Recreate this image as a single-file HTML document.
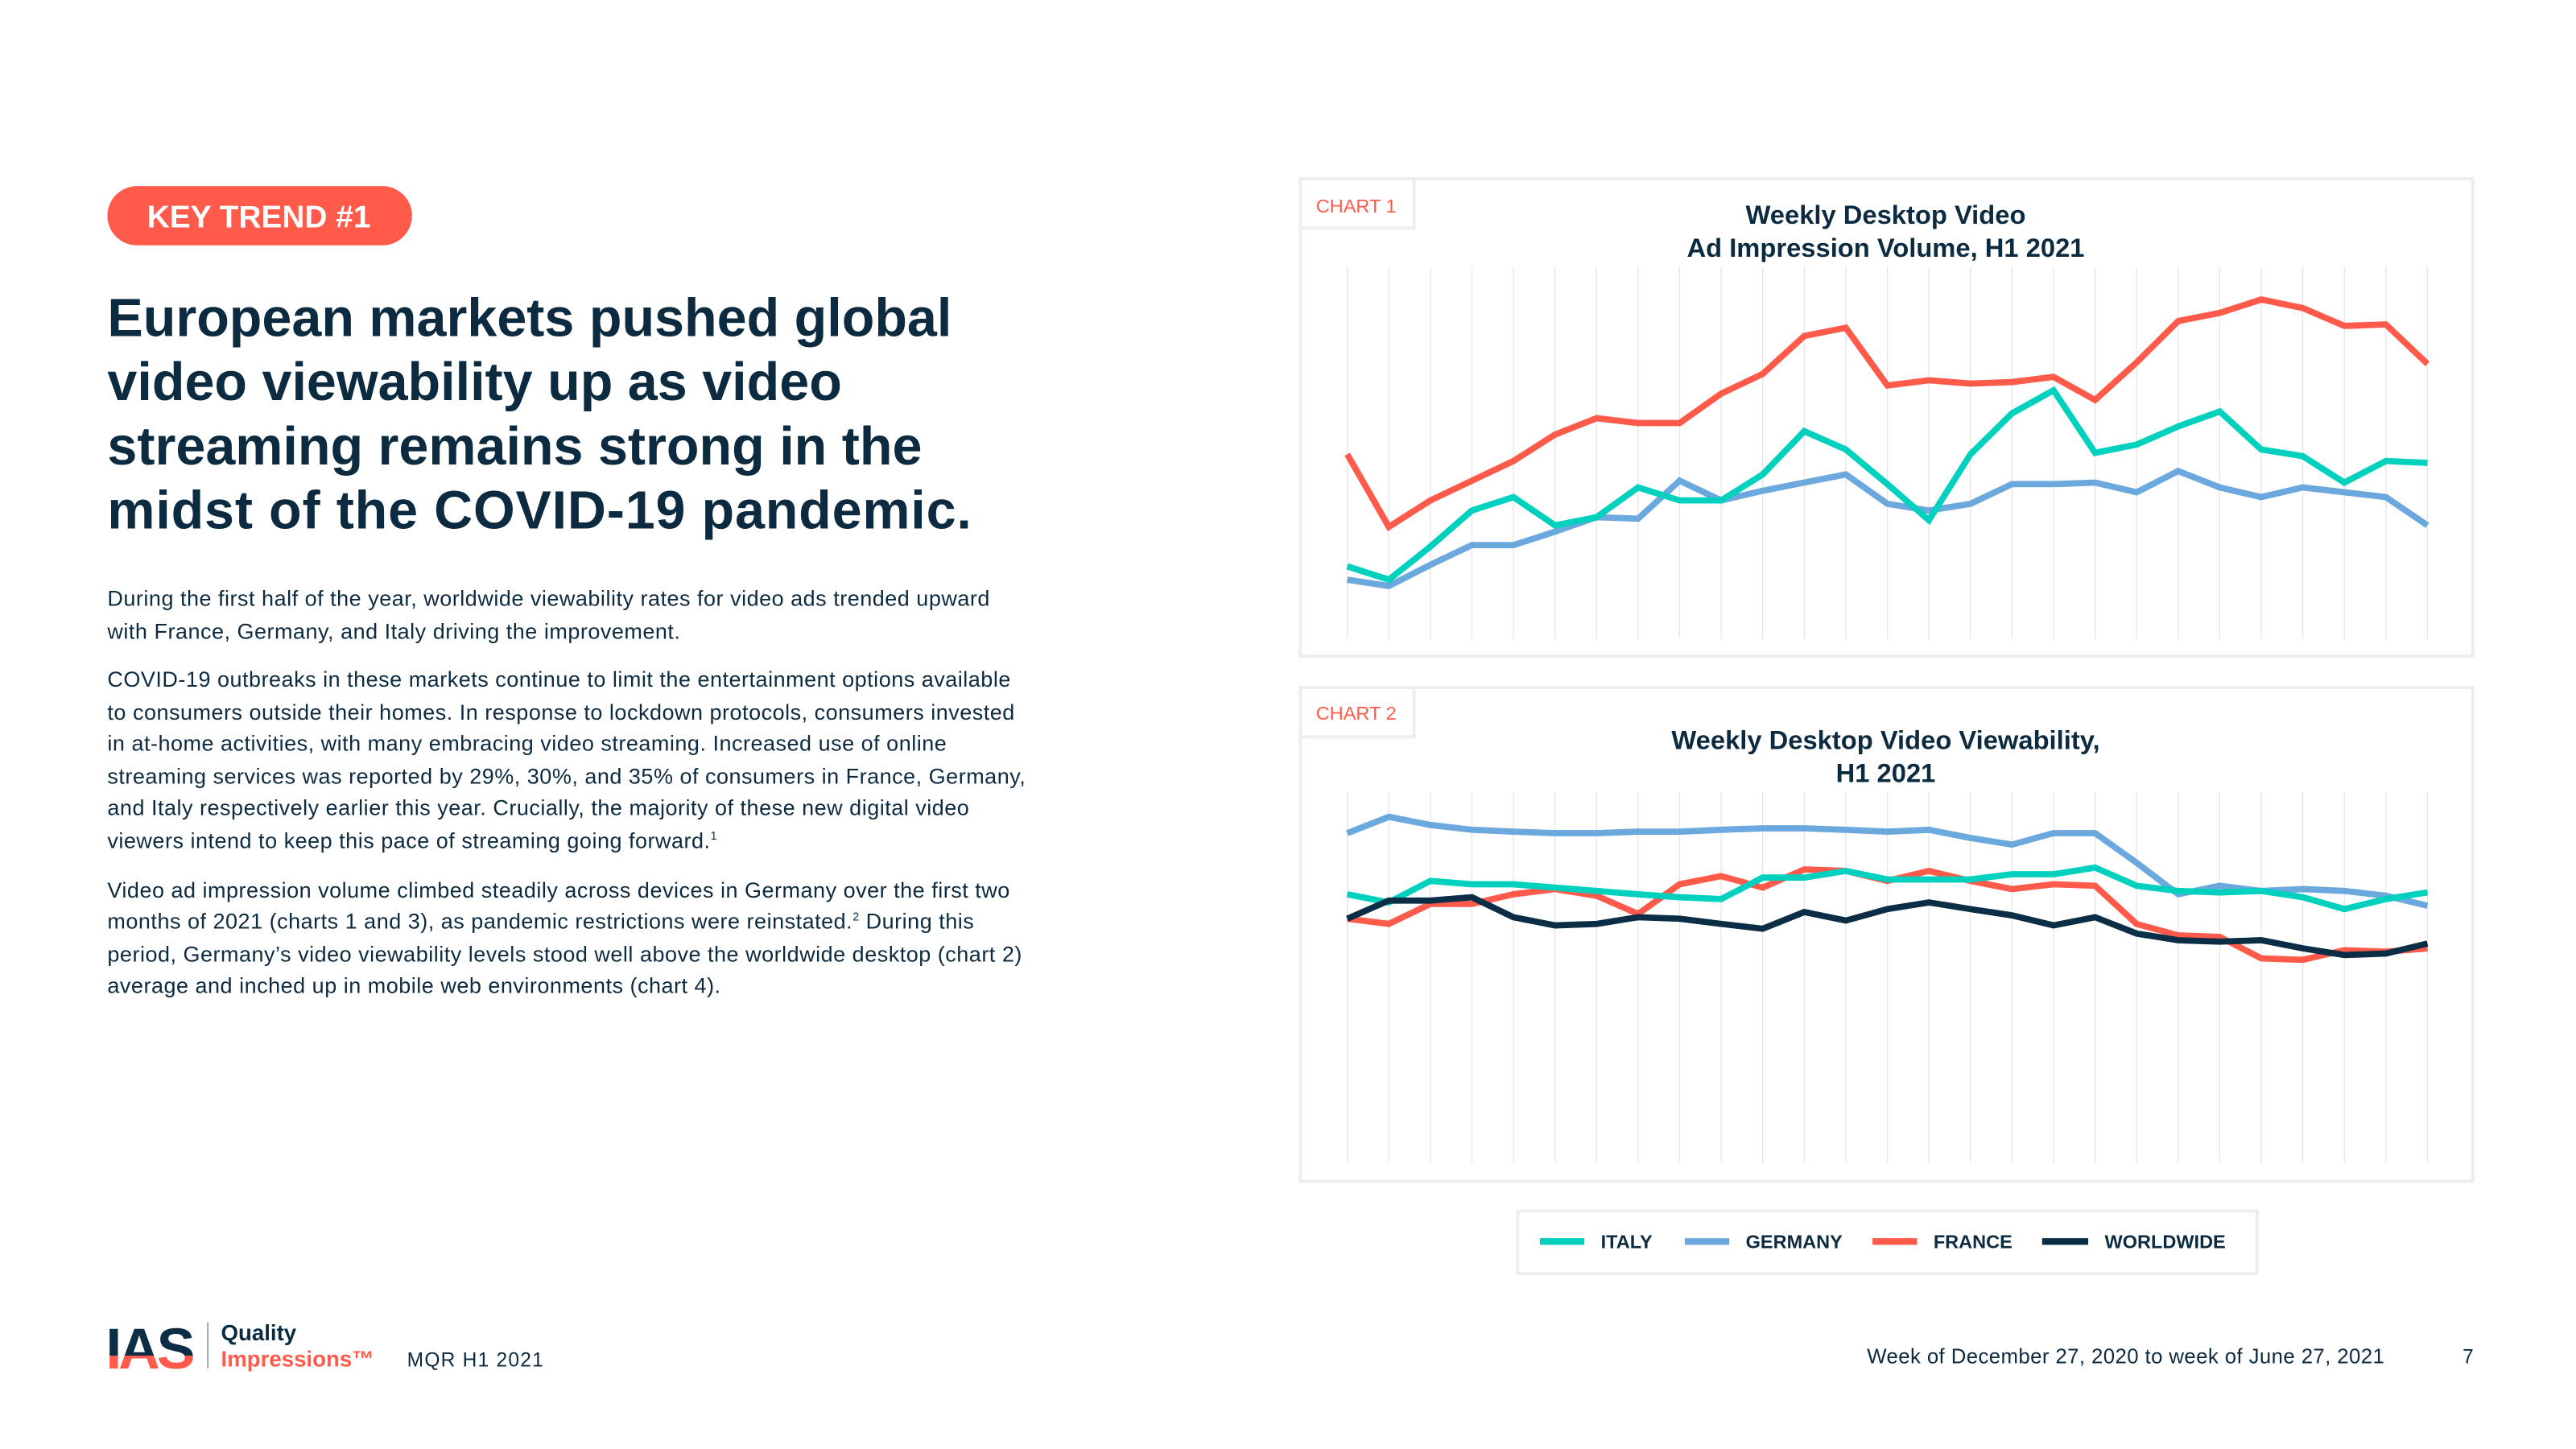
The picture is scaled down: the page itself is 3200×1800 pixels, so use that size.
<!DOCTYPE html>
<html><head><meta charset="utf-8"><style>
html,body{margin:0;padding:0;background:#fff;width:3200px;height:1800px;overflow:hidden}
svg{display:block;font-family:"Liberation Sans",sans-serif}
</style></head><body>
<svg id="page" width="3200" height="1800" viewBox="0 0 1564 880" xmlns="http://www.w3.org/2000/svg">
<defs>
<linearGradient id="ias" x1="0" y1="0" x2="0" y2="1"><stop offset="0.6" stop-color="#0B2D45"/><stop offset="0.6" stop-color="#FF5A4A"/></linearGradient>
</defs>
<g>
<rect x="65" y="113" width="185" height="36" rx="18" fill="#FF5A4A"/>
<text x="157" y="138" text-anchor="middle" fill="#fff" font-size="19" font-weight="bold">KEY TREND #1</text>
</g>
<g fill="#0C2A40" font-size="32.5" font-weight="bold">
<text x="65" y="204">European markets pushed global</text>
<text x="65" y="243">video viewability up as video</text>
<text x="65" y="282">streaming remains strong in the</text>
<text x="65" y="321" letter-spacing="0.4">midst of the COVID-19 pandemic.</text>
</g>
<g fill="#0C2A40" font-size="13.2" letter-spacing="0.25">
<text x="65" y="368">During the first half of the year, worldwide viewability rates for video ads trended upward</text>
<text x="65" y="388">with France, Germany, and Italy driving the improvement.</text>
<text x="65" y="417">COVID-19 outbreaks in these markets continue to limit the entertainment options available</text>
<text x="65" y="437">to consumers outside their homes. In response to lockdown protocols, consumers invested</text>
<text x="65" y="456">in at-home activities, with many embracing video streaming. Increased use of online</text>
<text x="65" y="476">streaming services was reported by 29%, 30%, and 35% of consumers in France, Germany,</text>
<text x="65" y="495">and Italy respectively earlier this year. Crucially, the majority of these new digital video</text>
<text x="65" y="515">viewers intend to keep this pace of streaming going forward.<tspan font-size="7" dy="-5">1</tspan></text>
<text x="65" y="545">Video ad impression volume climbed steadily across devices in Germany over the first two</text>
<text x="65" y="564">months of 2021 (charts 1 and 3), as pandemic restrictions were reinstated.<tspan font-size="7" dy="-5">2</tspan><tspan dy="5"> During this</tspan></text>
<text x="65" y="584">period, Germany’s video viewability levels stood well above the worldwide desktop (chart 2)</text>
<text x="65" y="603">average and inched up in mobile web environments (chart 4).</text>
</g>

<g>
<rect x="789.5" y="108.5" width="712" height="290" fill="#fff" stroke="#eeeeee" stroke-width="2"/>
<rect x="789.5" y="108.5" width="69" height="30" fill="#fff" stroke="#eeeeee" stroke-width="2"/>
<text x="799" y="129" fill="#FF5A4A" font-size="11.5">CHART 1</text>
<text x="1145" y="136" text-anchor="middle" fill="#0C2A40" font-size="16" font-weight="bold">Weekly Desktop Video</text>
<text x="1145" y="156" text-anchor="middle" fill="#0C2A40" font-size="16" font-weight="bold">Ad Impression Volume, H1 2021</text>
<g id="c1grid"></g><g id="c1lines"></g>
</g>
<g>
<rect x="789.5" y="417.5" width="712" height="300" fill="#fff" stroke="#eeeeee" stroke-width="2"/>
<rect x="789.5" y="417.5" width="69" height="30" fill="#fff" stroke="#eeeeee" stroke-width="2"/>
<text x="799" y="437" fill="#FF5A4A" font-size="11.5">CHART 2</text>
<text x="1145" y="455" text-anchor="middle" fill="#0C2A40" font-size="16" font-weight="bold">Weekly Desktop Video Viewability,</text>
<text x="1145" y="475" text-anchor="middle" fill="#0C2A40" font-size="16" font-weight="bold">H1 2021</text>
<g id="c2grid"></g><g id="c2lines"></g>
</g>

<g font-size="11.5" font-weight="bold" fill="#0C2A40">
<rect x="921.5" y="735.5" width="449" height="38" fill="#fff" stroke="#eeeeee" stroke-width="2"/>
<g><line x1="935" x2="962" y1="754" y2="754" stroke="#00D1BE" stroke-width="4"/><text x="972" y="758">ITALY</text></g>
<g><line x1="1023" x2="1050" y1="754" y2="754" stroke="#6AA8DE" stroke-width="4"/><text x="1060" y="758">GERMANY</text></g>
<g><line x1="1137" x2="1164" y1="754" y2="754" stroke="#FF5A4A" stroke-width="4"/><text x="1174" y="758">FRANCE</text></g>
<g><line x1="1240" x2="1268" y1="754" y2="754" stroke="#0B2D45" stroke-width="4"/><text x="1278" y="758">WORLDWIDE</text></g>
</g>

<g>
<text x="64" y="831" font-size="35" font-weight="bold" fill="url(#ias)" letter-spacing="-2">IAS</text>
<line x1="126" x2="126" y1="803" y2="831" stroke="#8a97a3" stroke-width="0.8"/>
<text x="134" y="814" font-size="13.5" font-weight="bold" fill="#0C2A40">Quality</text>
<text x="134" y="830" font-size="13.5" font-weight="bold" fill="#FF5A4A">Impressions™</text>
</g>
<text x="247" y="830" font-size="12" fill="#0C2A40" letter-spacing="0.6">MQR H1 2021</text>
<text x="1448" y="828" text-anchor="end" font-size="12.6" letter-spacing="0.2" fill="#0C2A40">Week of December 27, 2020 to week of June 27, 2021</text>
<text x="1502" y="828" text-anchor="end" font-size="12" fill="#0C2A40">7</text>
</svg>
<script>
const weeks = 27;
const c1Italy = [19.5,15.9,24.8,34.5,38.1,30.5,32.7,40.7,37.2,37.2,44.2,55.8,50.9,41.6,31.9,49.6,60.6,66.8,50.0,52.2,57.1,61.1,50.9,49.1,42.0,47.8,47.3];
const c1Germany = [15.9,14.2,19.9,25.2,25.2,28.8,32.7,32.3,42.5,37.2,39.8,42.0,44.2,36.3,34.5,36.3,41.6,41.6,42.0,39.4,45.1,40.7,38.1,40.7,39.4,38.1,30.5];
const c1France = [49.6,30.1,37.2,42.5,47.8,54.9,59.3,58.0,58.0,65.9,71.2,81.4,83.6,68.1,69.5,68.6,69.0,70.4,64.2,74.3,85.4,87.6,91.2,88.9,84.1,84.5,73.9];
const c2Germany = [88.9,93.3,91.1,89.8,89.3,88.9,88.9,89.3,89.3,89.8,90.2,90.2,89.8,89.3,89.8,87.6,85.8,88.9,88.9,80.9,72.4,74.7,73.3,73.8,73.3,72.0,69.3];
const c2Italy = [72.4,70.2,76.0,75.1,75.1,74.2,73.3,72.4,71.6,71.1,76.9,76.9,78.7,76.4,76.4,76.4,77.8,77.8,79.6,74.7,73.3,72.9,73.3,71.6,68.4,71.1,72.9];
const c2France = [65.8,64.4,69.8,69.8,72.4,73.8,72.0,67.1,75.1,77.3,74.2,79.1,78.7,76.0,78.7,76.0,73.8,75.1,74.7,64.4,61.3,60.9,55.1,54.7,57.3,56.9,57.8];
const c2Worldwide = [65.8,70.7,70.7,71.6,66.2,64.0,64.4,66.2,65.8,64.4,63.1,67.6,65.3,68.4,70.2,68.4,66.7,64.0,66.2,61.8,60.0,59.6,60.0,57.8,56.0,56.4,59.1];

const NS = 'http://www.w3.org/2000/svg';
function makeChart(gridId, linesId, top, bottom, series) {
  const x0 = 818, x1 = 1474;
  const xs = i => x0 + (x1 - x0) * i / (weeks - 1);
  const ys = v => bottom - (bottom - top) * v / 100;
  const grid = document.getElementById(gridId);
  for (let i = 0; i < weeks; i++) {
    const l = document.createElementNS(NS, 'line');
    l.setAttribute('x1', xs(i)); l.setAttribute('x2', xs(i));
    l.setAttribute('y1', top); l.setAttribute('y2', bottom);
    l.setAttribute('stroke', '#e4e4e4'); l.setAttribute('stroke-width', '0.6');
    
    
    grid.appendChild(l);
  }
  const g = document.getElementById(linesId);
  series.forEach(s => {
    const p = document.createElementNS(NS, 'polyline');
    p.setAttribute('points', s.data.map((v, i) => xs(i) + ',' + ys(v)).join(' '));
    p.setAttribute('fill', 'none'); p.setAttribute('stroke', s.color);
    p.setAttribute('stroke-width', '3.8'); p.setAttribute('stroke-linejoin', 'miter');
    
    
    g.appendChild(p);
  });
}
makeChart('c1grid', 'c1lines', 162, 388, [
  {data: c1Germany, color: '#6AA8DE', name: 'chart-1-germany-line'},
  {data: c1Italy, color: '#00D1BE', name: 'chart-1-italy-line'},
  {data: c1France, color: '#FF5A4A', name: 'chart-1-france-line'}
]);
makeChart('c2grid', 'c2lines', 481, 706, [
  {data: c2Germany, color: '#6AA8DE', name: 'chart-2-germany-line'},
  {data: c2France, color: '#FF5A4A', name: 'chart-2-france-line'},
  {data: c2Italy, color: '#00D1BE', name: 'chart-2-italy-line'},
  {data: c2Worldwide, color: '#0B2D45', name: 'chart-2-worldwide-line'}
]);
</script>
</body></html>
